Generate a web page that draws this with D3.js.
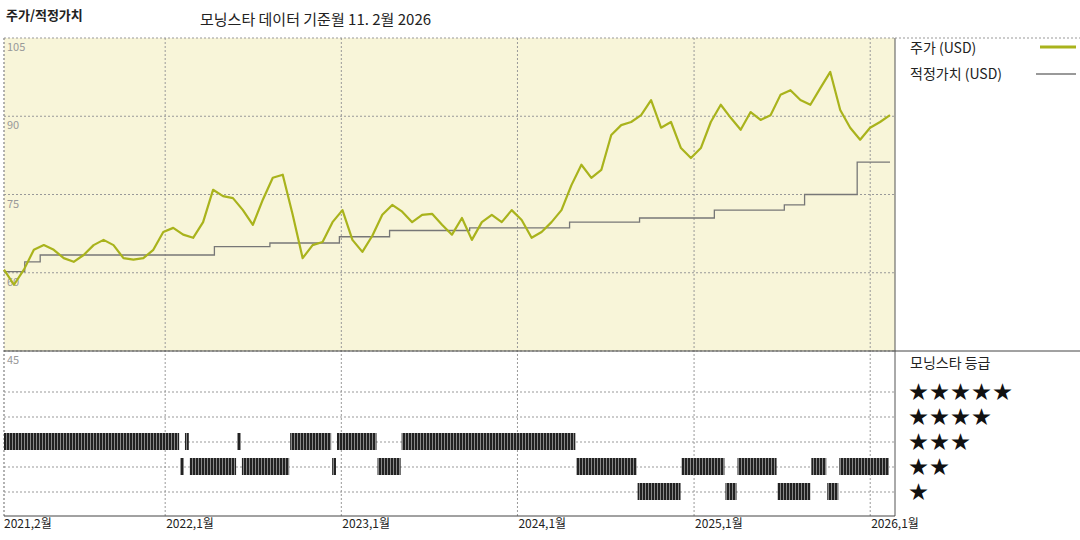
<!DOCTYPE html>
<html><head><meta charset="utf-8">
<script src="https://cdn.jsdelivr.net/npm/d3@7"></script>
<style>body{margin:0;background:#fff}text{font-family:"Noto Sans CJK KR","Noto Sans",sans-serif}</style>
</head><body>
<svg id="chart" width="1080" height="540"></svg>
<script>
// price, evenly spaced from start to end date
const priceValues = [60.6,57.7,60.6,64.4,65.3,64.4,62.8,62.1,63.4,65.3,66.3,65.3,62.8,62.5,62.8,64.4,67.8,68.6,67.3,66.7,
  69.7,75.9,74.7,74.3,72.0,69.2,74.0,78.2,78.8,71.1,62.8,65.3,65.9,69.7,72.0,66.3,64.0,67.1,71.1,73.0,
  71.7,69.7,71.1,71.3,69.2,67.3,70.5,66.3,69.7,71.1,69.7,72.0,70.1,66.7,67.8,69.7,72.0,76.8,80.7,78.2,
  79.7,86.4,88.3,88.9,90.2,93.1,87.8,88.9,83.9,82.0,83.9,88.9,92.2,89.7,87.4,90.8,89.3,90.2,94.1,95.0,
  93.1,92.2,95.4,98.5,91.2,87.8,85.5,87.8,88.9,90.2];
const fairDates = ["2021-02-01","2021-03-16","2021-04-17","2022-04-13","2022-08-06","2022-12-28","2023-04-11","2023-09-24","2024-04-18","2024-09-10","2025-02-12","2025-07-07","2025-08-18","2025-12-05","2026-02-11"];
const fairValues = [60.2,62.1,63.4,65.0,65.7,66.9,68.1,68.6,69.7,70.5,72.0,73.0,75.0,81.2,81.2];
// rating segments: start, end, stars
const ratingSegments = [
  ["2021-02-01","2022-02-01",3],["2022-02-01","2022-02-11",2],["2022-02-11","2022-02-21",3],
  ["2022-02-21","2022-05-30",2],["2022-05-30","2022-06-09",3],["2022-06-09","2022-09-17",2],
  ["2022-09-17","2022-12-13",3],["2022-12-13","2022-12-23",2],["2022-12-23","2023-03-17",3],
  ["2023-03-17","2023-05-06",2],["2023-05-06","2024-05-02",3],["2024-05-02","2024-09-06",2],
  ["2024-09-06","2024-12-06",1],["2024-12-06","2025-03-07",2],["2025-03-07","2025-04-01",1],
  ["2025-04-01","2025-06-23",2],["2025-06-23","2025-09-01",1],["2025-09-01","2025-10-04",2],
  ["2025-10-04","2025-10-29",1],["2025-10-29","2026-02-11",2]];
const yTicks = [105,90,75,60,45];
const xTickDates = ["2021-02-01","2022-01-01","2023-01-01","2024-01-01","2025-01-01","2026-01-01"];
const xTickLabels = ["2021,2월","2022,1월","2023,1월","2024,1월","2025,1월","2026,1월"];
const starRows = [5,4,3,2,1];

const parse = d3.timeParse("%Y-%m-%d");
const svg = d3.select("#chart");
const L = 4, R = 895, T = 38, B = 351, RB = 516;
const start = parse("2021-02-01"), end = parse("2026-02-11");
const x = d3.scaleTime().domain([start, end]).range([L, 890]);
const y = d3.scaleLinear().domain([45, 105]).range([B, T]);
const ry = d3.scaleLinear().domain([1, 5]).range([492, 392]);

svg.append("rect").attr("x", L).attr("y", T).attr("width", R - L).attr("height", B - T).attr("fill", "#f8f5d9");

const grid = svg.append("g").attr("stroke", "#999").attr("stroke-dasharray", "2,2").attr("stroke-width", 1);
yTicks.forEach(t => grid.append("line").attr("x1", L).attr("x2", R).attr("y1", y(t)).attr("y2", y(t)));
[5,4,3,2,1].forEach(s => grid.append("line").attr("x1", L).attr("x2", R).attr("y1", ry(s)).attr("y2", ry(s)));
xTickDates.forEach(d => grid.append("line").attr("x1", x(parse(d))).attr("x2", x(parse(d))).attr("y1", T).attr("y2", RB));
grid.append("line").attr("x1", L).attr("x2", L).attr("y1", T).attr("y2", RB);

svg.append("line").attr("x1", R).attr("x2", R).attr("y1", T).attr("y2", RB).attr("stroke", "#555");
svg.append("line").attr("x1", L).attr("x2", 1080).attr("y1", B).attr("y2", B).attr("stroke", "#444");
svg.append("line").attr("x1", R).attr("x2", 1080).attr("y1", T).attr("y2", T).attr("stroke", "#999").attr("stroke-dasharray", "2,2");
svg.append("line").attr("x1", L).attr("x2", R).attr("y1", RB).attr("y2", RB).attr("stroke", "#444");

svg.selectAll(".yl").data(yTicks).join("text").attr("x", 7).attr("y", d => y(d) + 13)
  .attr("font-size", 11).attr("fill", "#999").text(d => d);

// ratings
const defs = svg.append("defs");
const pat = defs.append("pattern").attr("id", "stripe").attr("patternUnits", "userSpaceOnUse").attr("width", 3).attr("height", 10);
pat.append("rect").attr("width", 3).attr("height", 10).attr("fill", "#222");
pat.append("rect").attr("width", 1).attr("height", 10).attr("fill", "#888");
svg.selectAll(".rate").data(ratingSegments).join("rect")
  .attr("x", d => x(parse(d[0]))).attr("width", d => Math.max(2, x(parse(d[1])) - x(parse(d[0])) - 1))
  .attr("y", d => ry(d[2]) - 9).attr("height", 17).attr("fill", "url(#stripe)");

// fair value
const fair = fairDates.map((d, i) => [parse(d), fairValues[i]]);
svg.append("path").datum(fair).attr("fill", "none").attr("stroke", "#777").attr("stroke-width", 1.3)
  .attr("d", d3.line().curve(d3.curveStepAfter).x(d => x(d[0])).y(d => y(d[1])));

// price
const span = end - start;
const price = priceValues.map((v, i) => [new Date(+start + span * i / (priceValues.length - 1)), v]);
svg.append("path").datum(price).attr("fill", "none").attr("stroke", "#a9b31c").attr("stroke-width", 2.2)
  .attr("stroke-linejoin", "round")
  .attr("d", d3.line().x(d => x(d[0])).y(d => y(d[1])));

// x labels
svg.selectAll(".xl").data(xTickDates).join("text").attr("x", d => x(parse(d)) + (d === "2021-02-01" ? 0 : 1)).attr("y", 528)
  .attr("font-size", 12).attr("fill", "#222").text((d, i) => xTickLabels[i]);

// titles
svg.append("text").attr("x", 6).attr("y", 20).attr("font-size", 13).attr("font-weight", "bold").attr("fill", "#222").text("주가/적정가치");
svg.append("text").attr("x", 200).attr("y", 25).attr("font-size", 15).attr("fill", "#222").text("모닝스타 데이터 기준월 11. 2월 2026");

// legend
svg.append("text").attr("x", 910).attr("y", 53).attr("font-size", 14).attr("fill", "#222").text("주가 (USD)");
svg.append("line").attr("x1", 1040).attr("x2", 1076).attr("y1", 47).attr("y2", 47).attr("stroke", "#a9b31c").attr("stroke-width", 3);
svg.append("text").attr("x", 910).attr("y", 79).attr("font-size", 14).attr("fill", "#222").text("적정가치 (USD)");
svg.append("line").attr("x1", 1036).attr("x2", 1076).attr("y1", 74).attr("y2", 74).attr("stroke", "#777").attr("stroke-width", 1.3);
svg.append("text").attr("x", 910).attr("y", 368).attr("font-size", 14).attr("fill", "#222").text("모닝스타 등급");
svg.selectAll(".stars").data(starRows).join("text").attr("x", 909).attr("y", d => ry(d) + 7)
  .attr("font-size", 19).attr("letter-spacing", 2).attr("fill", "#111").attr("font-family", "DejaVu Sans").text(d => "★".repeat(d));
</script>
</body></html>
